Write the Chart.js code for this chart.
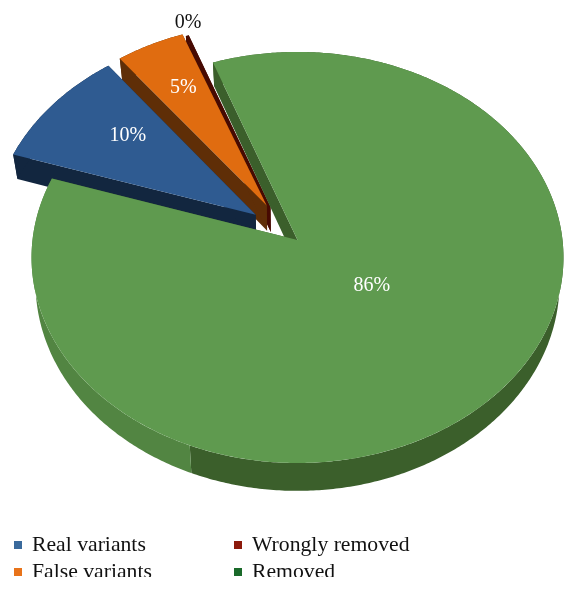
<!DOCTYPE html>
<html>
<head>
<meta charset="utf-8">
<title>Variants pie</title>
<script src="https://cdn.jsdelivr.net/npm/chart.js@4"></script>
<style>
  html, body { margin: 0; padding: 0; background: #fff; }
  canvas { display: block; }
</style>
</head>
<body>
<canvas id="pie" width="578" height="590"></canvas>
<script>
// values
const categories = ['Real variants', 'False variants', 'Wrongly removed', 'Removed'];
const shares = [9.6, 4.6, 0.2, 85.6];
const percentLabels = ['10%', '5%', '0%', '86%'];

// styles
const faceColors = ['#2f5b91', '#e06c10', '#470a02', '#5f9a4f'];
const wallColors = ['#12263f', '#5f2e07', '#470a02', '#3b5f2b'];
const legendColors = ['#3a6a9c', '#e8731a', '#8c1a0c', '#1a6a2a'];
const labelColors = ['#fff', '#fff', '#111', '#fff'];
const explode = [48, 58, 58, 0];
const sliceShift = [[-3, -4], [-3, 4], [-7, 8], [0, 0]]; // exploded slices don't move purely radially
const labelRadius = [0.7, 0.7, 1.08, 0.35];
const labelShift = [[16, -1], [0, -3], [7, 0], [6, -5]];
const lightWallColor = '#528542';
const lightWallFrom = (202 - 90) * Math.PI / 180; // where the rim gets lighter

// tilted view of the disc
const centerX = 297.5, centerY = 240;
const tilt = 0.77, perspective = 0.085, depth = 25.5, lowerShrink = 0.985;

function project(radius, dx, dy, lower, shift) {
    const w = 1 - perspective * dy / radius;
    let u = dx / w, v = tilt * dy / w;
    if (lower) {
        u *= lowerShrink;
        v += depth / w;
    }
    return [centerX + u + shift[0], centerY + v + shift[1]];
}

function onDisc(arc, angle, r) {
    const off = arc.options.offset || 0;
    const mid = (arc.startAngle + arc.endAngle) / 2;
    return [off * Math.cos(mid) + r * Math.cos(angle), off * Math.sin(mid) + r * Math.sin(angle)];
}

function fillPoly(ctx, pts, color) {
    ctx.beginPath();
    pts.forEach((p, i) => i ? ctx.lineTo(p[0], p[1]) : ctx.moveTo(p[0], p[1]));
    ctx.closePath();
    ctx.fillStyle = color;
    ctx.fill();
}

function rimPoints(arc, from, to, lower, shift) {
    const R = arc.outerRadius, pts = [];
    const steps = Math.max(2, Math.ceil((to - from) / 0.01));
    for (let i = 0; i <= steps; i++) {
        const d = onDisc(arc, from + (to - from) * i / steps, R);
        pts.push(project(R, d[0], d[1], lower, shift));
    }
    return pts;
}

function drawSlice(ctx, arc, i) {
    const R = arc.outerRadius, s = arc.startAngle, e = arc.endAngle;
    const shift = sliceShift[i];
    const tip = onDisc(arc, s, 0);
    const tipTop = project(R, tip[0], tip[1], false, shift);
    const tipLow = project(R, tip[0], tip[1], true, shift);
    const wall = wallColors[i];

    // the two cut sides
    [s, e].forEach(a => {
        const c = onDisc(arc, a, R);
        fillPoly(ctx, [tipTop, project(R, c[0], c[1], false, shift), project(R, c[0], c[1], true, shift), tipLow], wall);
    });

    // outer rim, in one tone or two
    const split = Math.min(Math.max(lightWallFrom, s), e);
    const isGreen = i === categories.length - 1;
    const darkEnd = isGreen ? split : e;
    fillPoly(ctx, rimPoints(arc, s, darkEnd, false, shift).concat(rimPoints(arc, s, darkEnd, true, shift).reverse()), wall);
    if (isGreen) {
        fillPoly(ctx, rimPoints(arc, split, e, false, shift).concat(rimPoints(arc, split, e, true, shift).reverse()), lightWallColor);
    }

    // top face
    fillPoly(ctx, [tipTop].concat(rimPoints(arc, s, e, false, shift)), arc.options.backgroundColor);
}

function drawLabels(ctx, arcs) {
    ctx.font = '20px "Liberation Serif"';
    ctx.textAlign = 'center';
    ctx.textBaseline = 'middle';
    arcs.forEach((arc, i) => {
        const R = arc.outerRadius;
        const d = onDisc(arc, (arc.startAngle + arc.endAngle) / 2, R * labelRadius[i]);
        const p = project(R, d[0], d[1], false, sliceShift[i]);
        ctx.fillStyle = labelColors[i];
        ctx.fillText(percentLabels[i], p[0] + labelShift[i][0], p[1] + labelShift[i][1]);
    });
}

function drawLegend(ctx) {
    const columnX = [14, 234], rowY = [545, 572];
    ctx.save();
    // the last legend row is cut by the figure edge
    ctx.beginPath();
    ctx.rect(0, 520, 578, 57);
    ctx.clip();
    ctx.font = '21.7px "Liberation Serif"';
    ctx.textAlign = 'left';
    ctx.textBaseline = 'middle';
    const slots = [[0, 0], [0, 1], [1, 0], [1, 1]];
    categories.forEach((name, i) => {
        const x = columnX[slots[i][0]], y = rowY[slots[i][1]];
        ctx.fillStyle = legendColors[i];
        ctx.fillRect(x, y - 4, 8, 8);
        ctx.fillStyle = '#111';
        ctx.fillText(name, x + 18, y);
    });
    ctx.restore();
}

const pie3d = {
    id: 'pie3d',
    beforeDatasetsDraw(chart) {
        const ctx = chart.ctx;
        const arcs = chart.getDatasetMeta(0).data;
        ctx.save();
        // back slices first, the big one last
        [2, 1, 0, 3].forEach(i => drawSlice(ctx, arcs[i], i));
        drawLabels(ctx, arcs);
        drawLegend(ctx);
        ctx.restore();
        return false;
    }
};

new Chart(document.getElementById('pie'), {
    type: 'pie',
    data: {
        labels: categories,
        datasets: [{
            data: shares,
            backgroundColor: faceColors,
            borderWidth: 0,
            offset: explode
        }]
    },
    options: {
        responsive: false,
        animation: false,
        rotation: -72,
        radius: 265,
        plugins: {
            legend: { display: false },
            tooltip: { enabled: false }
        }
    },
    plugins: [pie3d]
});
</script>
</body>
</html>
